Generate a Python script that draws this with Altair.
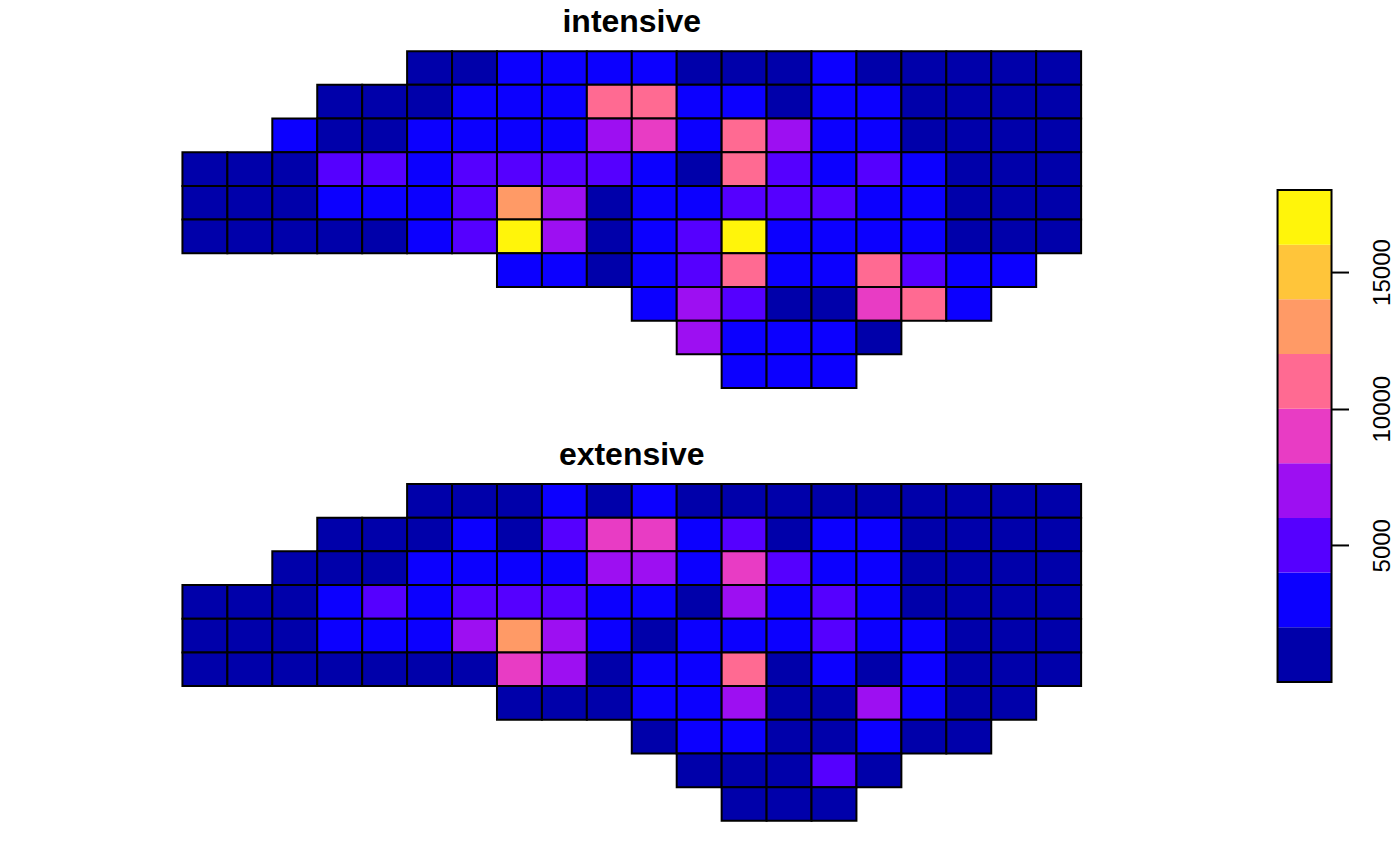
import altair as alt
import pandas as pd

START_COL = [5, 3, 2, 0, 0, 0, 7, 10, 11, 12]

# cell values in thousands, read as class midpoints
INTENSIVE = [
    [1,1,3,3,3,3,1,1,1,3,1,1,1,1,1],
    [1,1,1,3,3,3,11,11,3,3,1,3,3,1,1,1,1],
    [3,1,1,3,3,3,3,7,9,3,11,7,3,3,1,1,1,1],
    [1,1,1,5,5,3,5,5,5,5,3,1,11,5,3,5,3,1,1,1],
    [1,1,1,3,3,3,5,13,7,1,3,3,5,5,5,3,3,1,1,1],
    [1,1,1,1,1,3,5,17,7,1,3,5,17,3,3,3,3,1,1,1],
    [3,3,1,3,5,11,3,3,11,5,3,3],
    [3,7,5,1,1,9,11,3],
    [7,3,3,3,1],
    [3,3,3],
]
EXTENSIVE = [
    [1,1,1,3,1,3,1,1,1,1,1,1,1,1,1],
    [1,1,1,3,1,5,9,9,3,5,1,3,3,1,1,1,1],
    [1,1,1,3,3,3,3,7,7,3,9,5,3,3,1,1,1,1],
    [1,1,1,3,5,3,5,5,5,3,3,1,7,3,5,3,1,1,1,1],
    [1,1,1,3,3,3,7,13,7,3,1,3,3,3,5,3,3,1,1,1],
    [1,1,1,1,1,1,1,9,7,1,3,3,11,1,3,1,3,1,1,1],
    [1,1,1,3,3,7,1,1,7,3,1,1],
    [1,3,3,1,1,3,1,1],
    [1,1,1,5,1],
    [1,1,1],
]
BREAKS = [0, 2000, 4000, 6000, 8000, 10000, 12000, 14000, 16000, 18000]
COLORS = ["#0000AA", "#0C00FF", "#5500FF", "#9D0FF2", "#E83CC4",
          "#FF6A92", "#FF9A66", "#FFC53A", "#FFF50A"]
LEGEND_TICKS = [5000, 10000, 15000]
FONT = "Liberation Sans"

def frame(rows):
    out = []
    for r, (start, vals) in enumerate(zip(START_COL, rows)):
        for i, v in enumerate(vals):
            c = start + i
            out.append(dict(c0=c, c1=c + 1, r0=r, r1=r + 1, value=v * 1000))
    return pd.DataFrame(out)

color = alt.Color("value:Q", legend=None,
                  scale=alt.Scale(type="threshold", domain=BREAKS[1:-1], range=COLORS))

def panel(rows, title):
    return (
        alt.Chart(frame(rows), title=alt.TitleParams(
            title, font=FONT, fontSize=32, fontWeight="bold", color="black",
            anchor="middle", offset=9, dy=-2))
        .mark_rect(stroke="black", strokeWidth=2)
        .encode(
            x=alt.X("c0:Q", axis=None, scale=alt.Scale(domain=[0, 20], nice=False, zero=False)),
            x2="c1:Q",
            y=alt.Y("r0:Q", axis=None, scale=alt.Scale(domain=[10, 0], nice=False, zero=False)),
            y2="r1:Q",
            color=color,
        )
        .properties(width=899, height=337)
    )

legend_df = pd.DataFrame({"lo": BREAKS[:-1], "hi": BREAKS[1:], "col": COLORS,
                          "a": [0] * 9, "b": [1] * 9})
box_df = pd.DataFrame({"lo": [BREAKS[0]], "hi": [BREAKS[-1]], "a": [0], "b": [1]})
y_leg = alt.Y("lo:Q", title=None,
              scale=alt.Scale(domain=[-5085, 23085], nice=False, zero=False),
              axis=alt.Axis(orient="right", values=LEGEND_TICKS, grid=False, domain=False,
                            tickColor="black", tickWidth=2, tickSize=17,
                            labelAngle=-90, labelAlign="center", labelBaseline="middle",
                            labelFont=FONT, labelFontSize=24, labelColor="black",
                            labelPadding=34, format="d"))
x_leg = alt.X("a:Q", axis=None, scale=alt.Scale(domain=[0, 1], nice=False, zero=False))
bands = alt.Chart(legend_df).mark_rect().encode(
    x=x_leg, x2="b:Q", y=y_leg, y2="hi:Q",
    color=alt.Color("col:N", legend=None, scale=None))
box = alt.Chart(box_df).mark_rect(fillOpacity=0, stroke="black", strokeWidth=2).encode(
    x=x_leg, x2="b:Q", y=y_leg, y2="hi:Q")
legend = (bands + box).properties(width=54, height=770)

left = alt.vconcat(panel(INTENSIVE, "intensive"), panel(EXTENSIVE, "extensive"), spacing=50)
chart = (
    alt.hconcat(left, legend, spacing=194.5)
    .properties(padding={"left": 173.5, "top": -2, "right": -3, "bottom": 0}, background="white")
    .configure_view(stroke=None)
)
chart.save("out.html", embed_options={"renderer": "svg", "actions": False})
